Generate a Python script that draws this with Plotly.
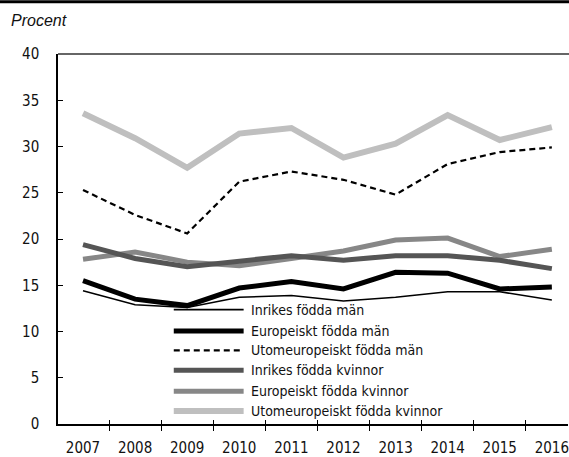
import plotly.graph_objects as go

years = [2007, 2008, 2009, 2010, 2011, 2012, 2013, 2014, 2015, 2016]

inrikes_man = [14.4, 12.9, 12.6, 13.7, 13.9, 13.3, 13.7, 14.3, 14.3, 13.4]
europ_man = [15.5, 13.5, 12.8, 14.7, 15.4, 14.6, 16.4, 16.3, 14.6, 14.8]
utomeurop_man = [25.3, 22.6, 20.6, 26.2, 27.3, 26.4, 24.8, 28.1, 29.4, 29.9]
inrikes_kv = [19.4, 17.9, 17.0, 17.6, 18.2, 17.7, 18.2, 18.2, 17.7, 16.8]
europ_kv = [17.8, 18.6, 17.5, 17.1, 17.9, 18.7, 19.9, 20.1, 18.1, 18.9]
utomeurop_kv = [33.6, 30.9, 27.7, 31.4, 32.0, 28.8, 30.3, 33.4, 30.7, 32.1]

names = ["Inrikes födda män", "Europeiskt födda män", "Utomeuropeiskt födda män",
         "Inrikes födda kvinnor", "Europeiskt födda kvinnor", "Utomeuropeiskt födda kvinnor"]
series = [inrikes_man, europ_man, utomeurop_man, inrikes_kv, europ_kv, utomeurop_kv]
colors = ["#000000", "#000000", "#000000", "#555555", "#878787", "#bfbfbf"]
widths = [1.6, 5, 2.2, 5, 5, 6]
dashes = ["solid", "solid", "6px,4px", "solid", "solid", "solid"]

y_ticks = [0, 5, 10, 15, 20, 25, 30, 35, 40]
bounds = [y - 0.5 for y in years] + [years[-1] + 0.5]

FONT = "DejaVu Sans Condensed, DejaVu Sans, sans-serif"

fig = go.Figure()
draw_order = [5, 4, 3, 2, 1, 0]
for i in draw_order:
    fig.add_trace(go.Scatter(x=years, y=series[i], mode="lines", name=names[i],
                             line=dict(color=colors[i], width=widths[i], dash=dashes[i]),
                             showlegend=False, hoverinfo="skip"))

# overlay axis only for the inward half of the x ticks
fig.add_trace(go.Scatter(x=[years[0]], y=[None], xaxis="x2", showlegend=False, hoverinfo="skip"))

xr = [2006.52, 2016.31]
fig.update_layout(
    width=569, height=457,
    margin=dict(l=58, r=0, t=54, b=31),
    plot_bgcolor="white", paper_bgcolor="white",
    showlegend=False,
    xaxis=dict(range=xr, tickvals=years, ticktext=[str(y) for y in years], ticks="",
               showgrid=False, zeroline=False, showline=True, linecolor="black", linewidth=1.5,
               tickfont=dict(family=FONT, size=15, color="#111"), ticklabelstandoff=9,
               ticklabeloverflow="allow",
               minor=dict(tickvals=bounds, ticks="outside", ticklen=5, tickcolor="black",
                          tickwidth=1.3, showgrid=False)),
    xaxis2=dict(range=xr, overlaying="x", tickvals=bounds, ticks="inside", ticklen=4,
                tickcolor="black", tickwidth=1.3, showticklabels=False, showgrid=False,
                zeroline=False, side="bottom", anchor="y"),
    yaxis=dict(range=[0, 40], tickvals=y_ticks, ticks="inside", ticklen=5, tickcolor="black",
               tickwidth=1.3, showgrid=False, zeroline=False, showline=True, linecolor="black",
               linewidth=1.5, tickfont=dict(family=FONT, size=15, color="#111"),
               ticklabelstandoff=14),
)

px_h = 457 - 54 - 31


def paper_y(pix):
    return 1 - (pix - 54) / px_h


# gray line along the top of the plot area, black rule at the top of the figure
fig.add_shape(type="line", xref="paper", yref="paper", x0=0, x1=1.05, y0=1, y1=1,
              line=dict(color="#666666", width=2))
fig.add_shape(type="line", xref="paper", yref="paper", x0=-0.2, x1=1.05,
              y0=paper_y(1.5), y1=paper_y(1.5), line=dict(color="black", width=3))

fig.add_annotation(text="Procent", xref="paper", yref="paper", x=-0.096, y=paper_y(20),
                   xanchor="left", yanchor="middle", showarrow=False,
                   font=dict(family="Liberation Sans, Arial, sans-serif", size=16,
                             color="#111", style="italic"))

# hand-made legend with long sample lines
leg_y = [311, 332.5, 352, 372, 393, 413]
for i in range(6):
    yp = paper_y(leg_y[i])
    fig.add_shape(type="line", xref="paper", yref="paper",
                  x0=(174 - 58) / 511, x1=(244 - 58) / 511, y0=yp, y1=yp,
                  line=dict(color=colors[i], width=widths[i], dash=dashes[i]))
    fig.add_annotation(text=names[i], xref="paper", yref="paper", x=(249 - 58) / 511, y=yp,
                       xanchor="left", yanchor="middle", showarrow=False,
                       font=dict(family=FONT, size=14, color="#111"))

fig.write_html("out.html", config={"displayModeBar": False},
               post_script="document.body.style.margin='0';")
